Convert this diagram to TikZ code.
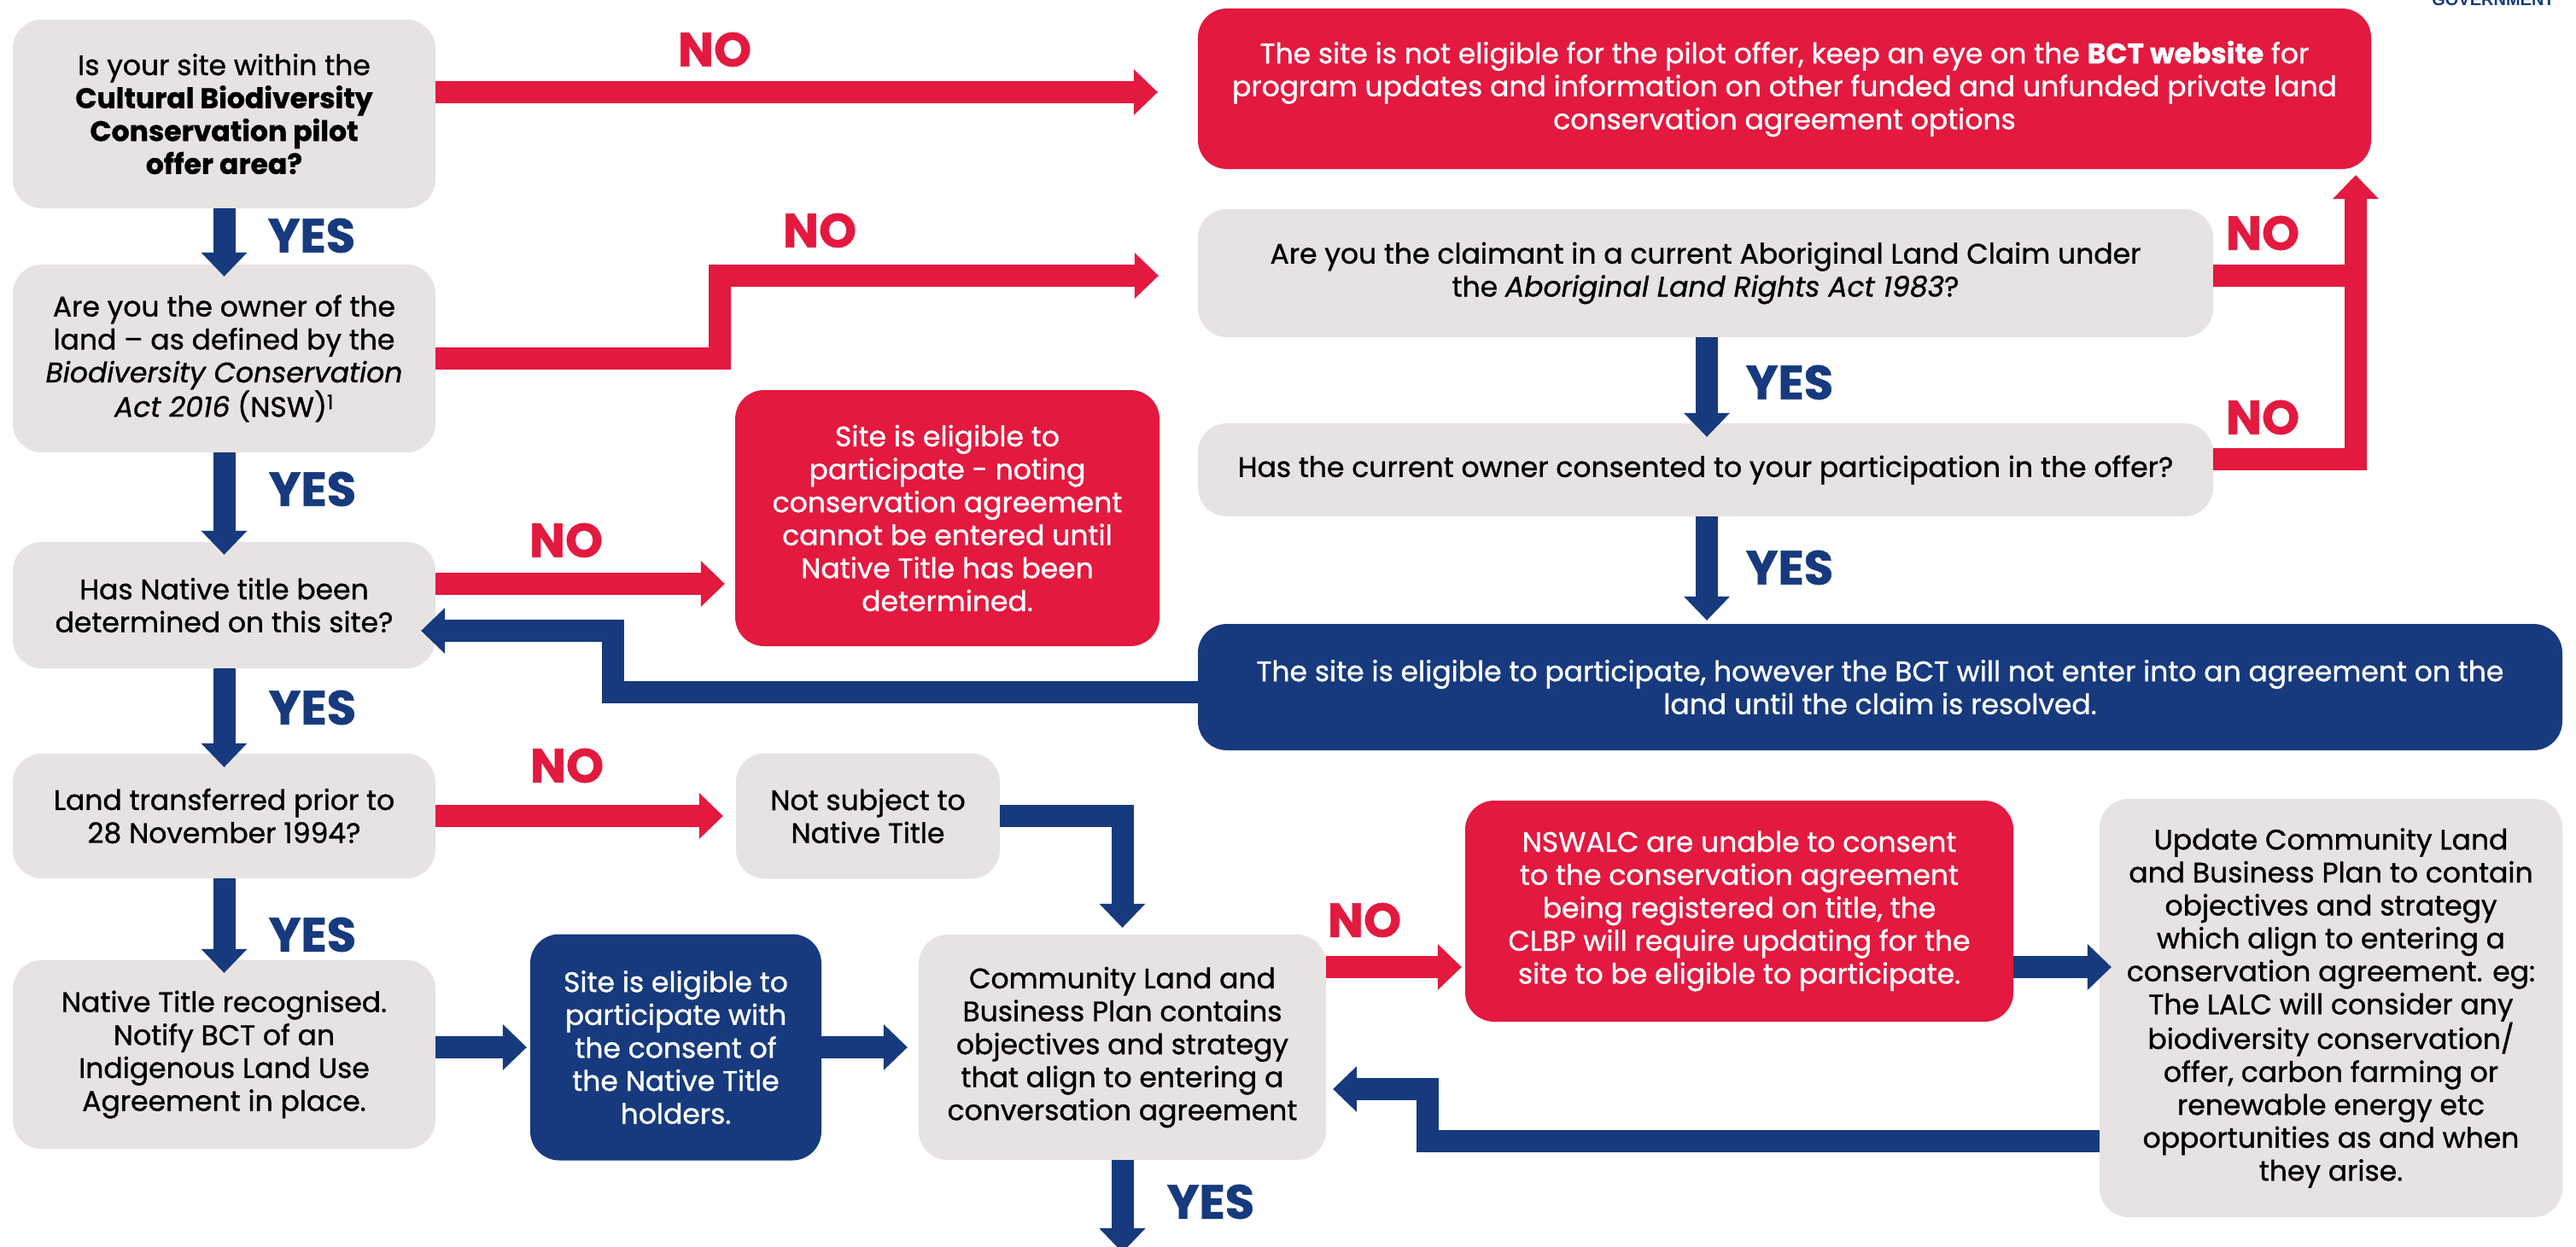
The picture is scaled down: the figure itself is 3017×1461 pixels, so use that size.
\documentclass[tikz,border=0pt]{standalone}
\usepackage{fontspec}
\setmainfont{Poppins}[FakeBold=1.0]
\newfontfamily\govfont{Liberation Sans}
\usetikzlibrary{arrows.meta,calc}
\definecolor{nswred}{RGB}{227,25,63}
\definecolor{nswblue}{RGB}{22,58,125}
\definecolor{boxgray}{RGB}{230,227,226}
\begin{document}
\begin{tikzpicture}[x=1pt,y=-1pt,
  box/.style={rounded corners=34pt, inner sep=0pt, align=center, font=\fontsize{33}{38.6}\selectfont},
  graybox/.style={box, fill=boxgray, text=black},
  redbox/.style={box, fill=nswred, text=white},
  bluebox/.style={box, fill=nswblue, text=white},
  redline/.style={draw=nswred, line width=26pt},
  redarr/.style={draw=nswred, line width=26pt, -{Triangle[width=54pt,length=28pt,line width=0pt]}},
  bluearr/.style={draw=nswblue, line width=26pt, -{Triangle[width=54pt,length=28pt,line width=0pt]}},
  nolab/.style={text=nswred, font=\bfseries\fontsize{56}{56}\selectfont, inner sep=0pt},
  yeslab/.style={text=nswblue, font=\bfseries\fontsize{56}{56}\selectfont, inner sep=0pt}
]
\useasboundingbox (0,0) rectangle (3017,1461);
\fill[white] (0,0) rectangle (3017,1461);

\node[font=\govfont\bfseries\fontsize{20}{20}\selectfont, text=nswblue, anchor=base, inner sep=0pt] (gov) at (2920,7) {GOVERNMENT};

% left column
\node[graybox, minimum width=495pt, minimum height=221pt] (A) at (262.5,133.5)
  {Is your site within the\\\textbf{Cultural Biodiversity}\\\textbf{Conservation pilot}\\\textbf{offer area?}};
\node[graybox, minimum width=495pt, minimum height=220pt] (B) at (262.5,420)
  {Are you the owner of the\\land -- as defined by the\\\textit{Biodiversity Conservation}\\\textit{Act 2016} (NSW)\textsuperscript{1}};
\node[graybox, minimum width=495pt, minimum height=148pt] (C) at (262.5,709)
  {Has Native title been\\determined on this site?};
\node[graybox, minimum width=495pt, minimum height=146pt] (D) at (262.5,956)
  {Land transferred prior to\\28 November 1994?};
\node[graybox, minimum width=495pt, minimum height=221pt] (E) at (262.5,1235.5)
  {Native Title recognised.\\Notify BCT of an\\Indigenous Land Use\\Agreement in place.};

% middle
\node[bluebox, minimum width=341pt, minimum height=265pt] (F) at (791.5,1227)
  {Site is eligible to\\participate with\\the consent of\\the Native Title\\holders.};
\node[graybox, minimum width=477pt, minimum height=264pt] (G) at (1314.5,1227)
  {Community Land and\\Business Plan contains\\objectives and strategy\\that align to entering a\\conversation agreement};
\node[graybox, minimum width=309pt, minimum height=147pt] (H) at (1016.5,956)
  {Not subject to\\Native Title};
\node[redbox, minimum width=497pt, minimum height=300pt] (I) at (1109.5,607)
  {Site is eligible to\\participate - noting\\conservation agreement\\cannot be entered until\\Native Title has been\\determined.};

% right
\node[redbox, minimum width=1374pt, minimum height=188pt] (J) at (2090,104)
  {The site is not eligible for the pilot offer, keep an eye on the \textbf{BCT website} for\\program updates and information on other funded and unfunded private land\\conservation agreement options};
\node[graybox, minimum width=1189pt, minimum height=150pt] (K) at (1997.5,320)
  {Are you the claimant in a current Aboriginal Land Claim under\\the \textit{Aboriginal Land Rights Act 1983}?};
\node[graybox, minimum width=1189pt, minimum height=109pt] (L) at (1997.5,550.5)
  {Has the current owner consented to your participation in the offer?};
\node[bluebox, minimum width=1598pt, minimum height=148pt] (M) at (2202,805)
  {The site is eligible to participate, however the BCT will not enter into an agreement on the\\land until the claim is resolved.};
\node[redbox, minimum width=642pt, minimum height=259pt] (N) at (2037,1067.5)
  {NSWALC are unable to consent\\to the conservation agreement\\being registered on title, the\\CLBP will require updating for the\\site to be eligible to participate.};
\node[graybox, minimum width=542pt, minimum height=490pt] (O) at (2730,1181)
  {Update Community Land\\and Business Plan to contain\\objectives and strategy\\which align to entering a\\conservation agreement. eg:\\The LALC will consider any\\biodiversity conservation/\\offer, carbon farming or\\renewable energy etc\\opportunities as and when\\they arise.};

% connectors
\draw[redarr] ($(A.east)+(0,-25.5)$) -- ($(J.west)+(-47,4)$);
\draw[redarr] (B.east) -- ++(333,0) |- ($(K.west)+(-46,3)$);
\draw[bluearr] (A.south) -- ($(B.north)+(0,14)$);
\draw[bluearr] (B.south) -- ($(C.north)+(0,15)$);
\draw[bluearr] (C.south) -- ($(D.north)+(0,16)$);
\draw[bluearr] (D.south) -- ($(E.north)+(0,15)$);
\draw[redarr] ($(C.east)+(0,-25)$) -- ($(I.west)+(-12,77)$);
\draw[redarr] (D.east) -- ($(H.west)+(-15,0)$);
\draw[bluearr] (H.east) -| ($(G.north)+(0,-8)$);
\draw[bluearr] ($(E.east)+(0,-8.5)$) -- ($(F.west)+(-4,0)$);
\draw[bluearr] (F.east) -- ($(G.west)+(-13,0)$);
\coordinate (gend) at ($(G.south)+(0,108)$);
\draw[bluearr] (G.south) -- (gend);
\draw[redarr] ($(G.east)+(0,-94)$) -- ($(N.west)+(-4,65.5)$);
\draw[bluearr] ($(N.east)+(0,65.5)$) -- ($(O.west)+(14,-48)$);
\draw[bluearr] ($(O.west)+(0,156)$) -- ++(-787,0) |- ($(G.east)+(8,49)$);
\draw[bluearr] ($(K.south)+(1.5,0)$) -- ($(L.north)+(1.5,16)$);
\draw[bluearr] ($(L.south)+(1.5,0)$) -- ($(L.south |- M.north)+(1.5,-4)$);
\coordinate (kjtop) at ($(J.south)+(669,7)$);
\draw[redline] ($(K.east)+(0,2.5)$) -- ($(K.east -| kjtop)+(0,2.5)$);
\draw[redarr] ($(L.east)+(0,-12.5)$) -| (kjtop);
\draw[bluearr] ($(M.west)+(0,6)$) -- ++(-685,0) |- ($(C.east)+(-17,30)$);

% labels
\node[nolab] (no1) at (837,58) {NO};
\node[nolab] (no2) at (960,270) {NO};
\node[nolab] (no3) at (663,633) {NO};
\node[nolab] (no4) at (664,897) {NO};
\node[nolab] (no5) at (1598,1078) {NO};
\node[nolab] (no6) at (2650,273) {NO};
\node[nolab] (no7) at (2650,489) {NO};
\node[yeslab] (yes1) at (365,276) {YES};
\node[yeslab] (yes2) at (366,573) {YES};
\node[yeslab] (yes3) at (366,829) {YES};
\node[yeslab] (yes4) at (366,1095) {YES};
\node[yeslab] (yes5) at (1418,1408) {YES};
\node[yeslab] (yes6) at (2096,448) {YES};
\node[yeslab] (yes7) at (2096,665) {YES};
\end{tikzpicture}
\end{document}
